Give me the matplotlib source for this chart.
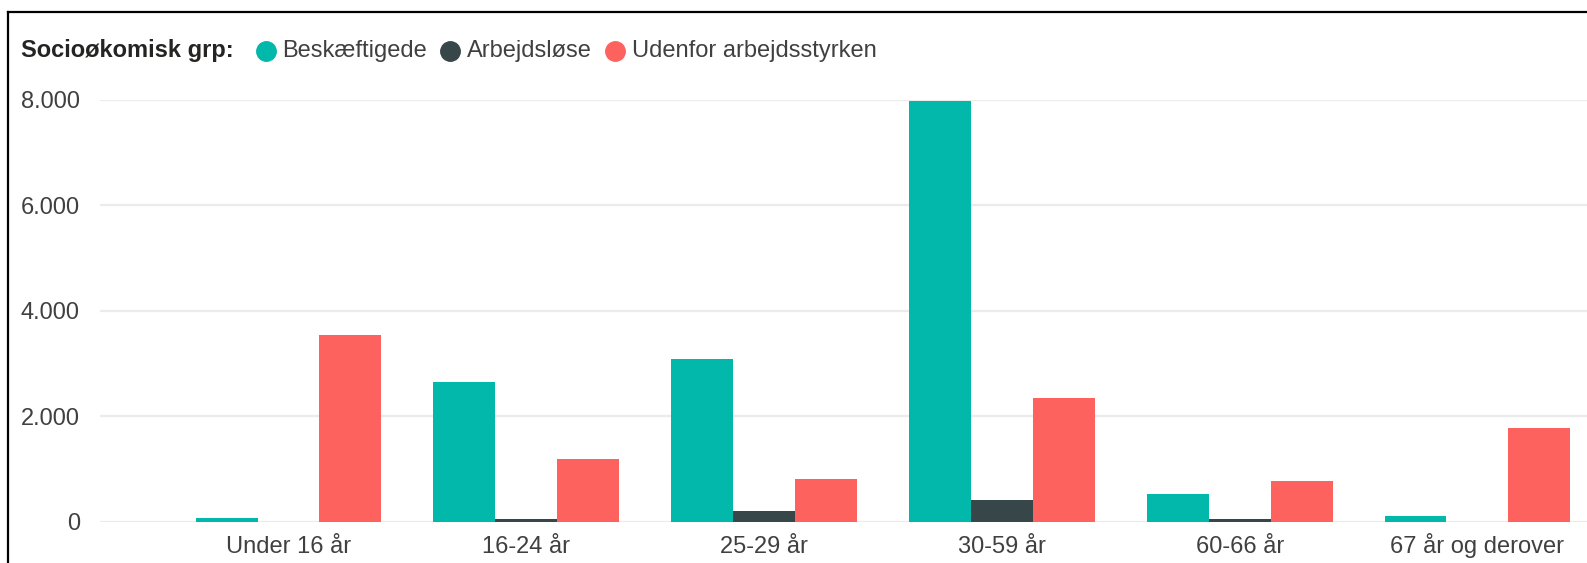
import numpy as np
import matplotlib
matplotlib.use("Agg")
import matplotlib.pyplot as plt
from matplotlib.ticker import FuncFormatter
from matplotlib.lines import Line2D

plt.rcParams['font.family'] = ['Liberation Sans', 'DejaVu Sans']

# Antal personer pr. aldersgruppe og socioøkonomisk gruppe
age_groups = ["Under 16 år", "16-24 år", "25-29 år", "30-59 år", "60-66 år", "67 år og derover"]
employed = [67, 2640, 3080, 7990, 520, 112]
unemployed = [0, 40, 200, 410, 45, 0]
outside = [3540, 1190, 800, 2350, 760, 1775]

series_names = ["Beskæftigede", "Arbejdsløse", "Udenfor arbejdsstyrken"]
colors = ["#01B8AA", "#374649", "#FD625E"]

W, H = 1587, 563
fig = plt.figure(figsize=(W / 100, H / 100), dpi=100)
ax = fig.add_axes([100 / W, (H - 521.5) / H, 1487 / W, 421.5 / H])

x = np.arange(len(age_groups))
bw = 0.2607
for i, vals in enumerate([employed, unemployed, outside]):
    ax.bar(x + (i - 1) * bw, vals, width=bw, color=colors[i], zorder=3, clip_on=False)

ax.set_xlim(-0.7927, 5.4605)
ax.set_ylim(0, 8000)
ax.set_yticks([0, 2000, 4000, 6000, 8000])
ax.yaxis.set_major_formatter(FuncFormatter(lambda v, p: f"{v:,.0f}".replace(",", ".")))
ax.set_xticks(x)
ax.set_xticklabels(age_groups)
for lbl in ax.get_xticklabels():
    lbl.set_va("baseline")
ax.tick_params(axis="y", length=0, pad=14.5, labelsize=17, labelcolor="#404040")
ax.tick_params(axis="x", length=0, pad=22.5, labelsize=17, labelcolor="#404040")
ax.grid(axis="y", color="#ebebeb", linewidth=1.6, zorder=0)
for s in ax.spines.values():
    s.set_visible(False)

# legend row at the top
fig.canvas.draw()
renderer = fig.canvas.get_renderer()
ly = 1 - 51 / H
t = fig.text(21 / W, ly, "Socioøkomisk grp:", fontsize=17, fontweight="bold",
             color="#252423", va="center", ha="left")
xpos = t.get_window_extent(renderer).x1 + 23
for name, c in zip(series_names, colors):
    fig.add_artist(Line2D([(xpos + 9) / W], [ly], marker="o", markersize=14,
                          color=c, linestyle="none"))
    tt = fig.text((xpos + 26) / W, ly, name, fontsize=17, color="#404040",
                  va="center", ha="left")
    xpos = tt.get_window_extent(renderer).x1 + 14

# frame lines on top and left
fig.add_artist(Line2D([8 / W, 1], [1 - 12 / H, 1 - 12 / H], color="black", linewidth=1.6))
fig.add_artist(Line2D([8 / W, 8 / W], [0, 1 - 12 / H], color="black", linewidth=1.6))

fig.savefig("out.png", dpi=100, facecolor="white")
